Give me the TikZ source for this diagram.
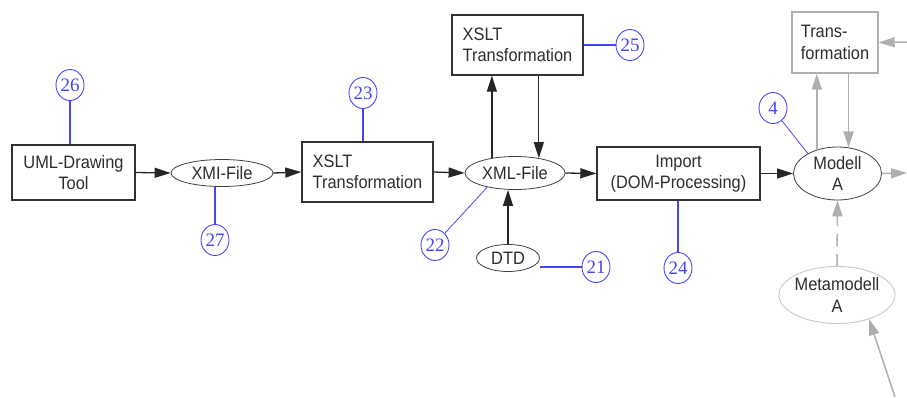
\documentclass[tikz,border=0pt]{standalone}
\usepackage{fontspec}
\setmainfont[FakeStretch=0.91]{Liberation Sans}
\newfontfamily\numfont{Liberation Serif}
\usetikzlibrary{shapes.geometric,arrows.meta}
\definecolor{txt}{RGB}{45,45,45}
\definecolor{anno}{RGB}{70,70,245}
\definecolor{lgray}{RGB}{175,175,175}
\definecolor{egray}{RGB}{200,200,200}
\tikzset{
  every node/.style={font=\fontsize{18}{21.5}\selectfont, text=txt},
  box/.style={draw=black!80, line width=1.4pt, rectangle, inner sep=0pt},
  gbox/.style={draw=lgray, line width=1.4pt, rectangle, inner sep=0pt},
  ell/.style={draw=black!75, line width=0.8pt, ellipse, inner sep=-4pt, align=center},
  gell/.style={draw=egray, line width=0.9pt, ellipse, inner sep=-4pt, align=center},
  anno/.style={draw=anno, line width=0.9pt, ellipse, inner sep=0pt, minimum width=28pt, minimum height=31pt, text=anno, font=\numfont\fontsize{19}{19}\selectfont},
  aline/.style={draw=anno, line width=1.4pt},
  athin/.style={draw=anno, line width=0.8pt},
  arr/.style={draw=black!85, line width=1.3pt, -{Triangle[length=16pt,width=10pt]}},
  garr/.style={draw=lgray, line width=1.5pt, -{Triangle[length=16pt,width=10pt]}},
}
\begin{document}
\begin{tikzpicture}[x=1pt,y=-1pt]
\useasboundingbox (0,0) rectangle (907,397);
% black part
\node[box, minimum width=123pt, minimum height=55pt, align=center] (uml) at (73.5,172.5) {UML-Drawing\\Tool};
\node[ell, minimum width=102pt, minimum height=27pt] (xmi) at (222,173) {XMI-File};
\node[box, minimum width=131pt, minimum height=60pt, align=left] (x1) at (367.5,172) {XSLT\\Transformation};
\node[ell, minimum width=100pt, minimum height=33pt] (xml) at (515,173) {XML-File};
\node[box, minimum width=131pt, minimum height=60pt, align=left] (x2) at (517.5,45) {XSLT\\Transformation};
\node[ell, minimum width=63pt, minimum height=27pt] (dtd) at (508,258) {DTD};
\node[box, minimum width=163pt, minimum height=53pt, align=center] (imp) at (678.5,173.5) {Import\\(DOM-Processing)};
\node[ell, minimum width=88pt, minimum height=53pt] (modell) at (837.5,173.5) {Modell\\A};
% gray part
\node[gbox, minimum width=86pt, minimum height=61pt, align=left] (tr) at (835,42.5) {Trans-\\formation};
\node[gell, minimum width=116pt, minimum height=57pt] (meta) at (837,295) {Metamodell\\A};
\coordinate (rin) at (907,42);
\coordinate (rout) at (907,173);
\coordinate (rb) at (895,397);
% annotations
\node[anno] (c26) at (70,85) {26};
\node[anno] (c27) at (215,240) {27};
\node[anno] (c23) at (363,93) {23};
\node[anno] (c25) at (630,45) {25};
\node[anno] (c21) at (596,267) {21};
\node[anno] (c22) at (435,245) {22};
\node[anno] (c24) at (678,268) {24};
\node[anno] (c4) at (773,108) {4};
% annotation lines
\draw[aline] (c26.south) -- (c26.south |- uml.north);
\draw[aline] (c27.north) -- (c27.north |- xmi.south);
\draw[aline] (c23.south) -- (c23.south |- x1.north);
\draw[aline] (x2.east) -- (c25.west);
\draw[aline] (c21.west) -- (dtd.east |- c21.west);
\draw[athin] (c22.50) -- (xml.207);
\draw[aline] (c24.north) -- (c24.north |- imp.south);
\draw[athin] (c4.-55) -- (modell.146);
% black arrows
\draw[arr] (uml.east) -- (xmi.west);
\draw[arr] (xmi.east) -- (x1.west);
\draw[arr] (x1.east) -- (xml.west);
\draw[arr] (xml.east) -- (imp.west);
\draw[arr] (imp.east) -- (modell.west);
\draw[arr] (xml.147.5) -- (xml.147.5 |- x2.south);
\draw[arr] (x2.south -| xml.32.5) -- (xml.32.5);
\draw[arr] (dtd.north) -- (dtd.north |- xml.south);
% gray arrows
\draw[garr] (modell.131.7) -- (modell.131.7 |- tr.south);
\draw[garr] (tr.south -| modell.67.2) -- (modell.67.2);
\draw[garr] (rin) -- (tr.east);
\draw[garr] (modell.east) -- (rout);
\draw[garr, dash pattern=on 12pt off 8pt] (meta.north) -- (modell.south);
\draw[garr] (rb) -- (meta.-37);
\end{tikzpicture}
\end{document}
